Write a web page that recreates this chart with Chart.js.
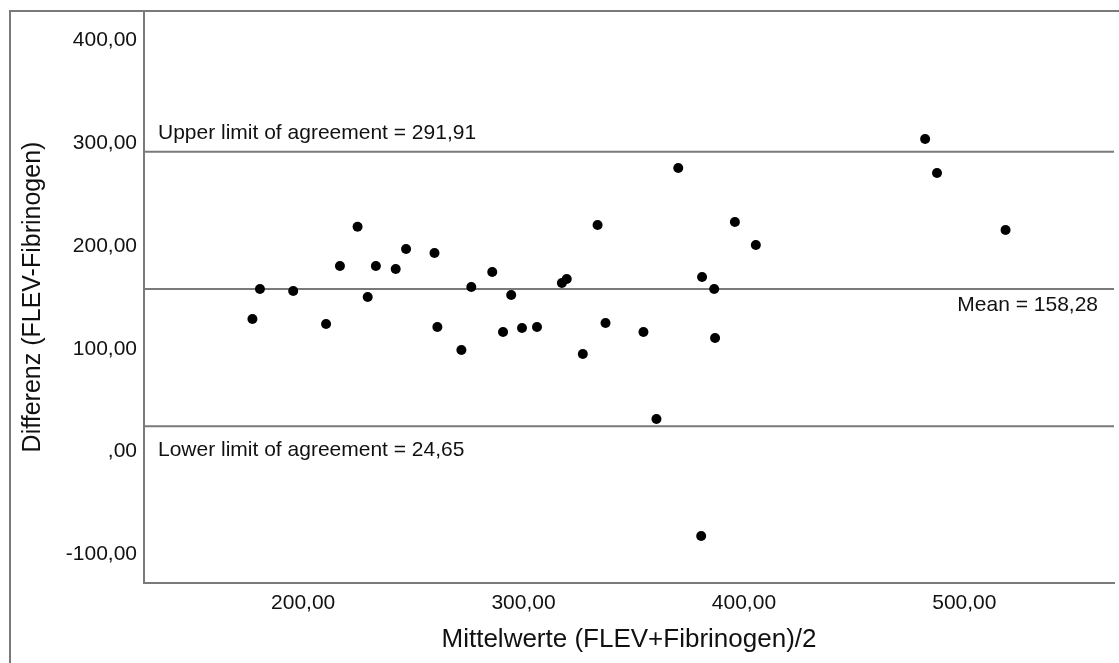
<!DOCTYPE html>
<html lang="de">
<head>
  <meta charset="UTF-8">
  <title>Bland-Altman: FLEV vs. Fibrinogen</title>
  <script src="https://cdn.jsdelivr.net/npm/chart.js"></script>
  <style>
    body {
      margin: 0;
      background-color: #ffffff;
    }

    .chart-box {
      width: 1119px;
      height: 663px;
    }
  </style>
</head>
<body>
  <div class="chart-box">
    <canvas id="baChart" width="1119" height="663"></canvas>
  </div>

  <script>
    // mean of both methods (x) and their difference (y), one entry per sample
    const meanValues = [177.0, 180.4, 195.5, 210.4, 216.7, 224.7, 229.3, 233.0, 242.0, 246.7,
                        259.6, 260.9, 271.8, 276.3, 285.8, 290.7, 294.4, 299.3, 306.1, 317.4,
                        319.6, 326.9, 333.6, 337.2, 354.4, 360.3, 370.2, 381.0, 386.5, 386.9,
                        395.9, 405.4, 380.6, 482.2, 487.6, 518.7];
    const diffValues = [129.0, 158.2, 156.3, 124.2, 180.6, 218.9, 150.4, 180.6, 177.7, 197.2,
                        193.3, 121.2, 98.8, 160.2, 174.8, 116.4, 152.4, 120.3, 121.2, 164.1,
                        167.9, 94.9, 220.5, 125.1, 116.4, 31.6, 276.0, 169.9, 158.2, 110.5,
                        223.4, 201.1, -82.3, 304.3, 271.2, 215.7];

    const meanDiff = 158.28;
    const upperLoA = 291.91;
    const lowerLoA = 24.65;

    const xTicks = [200, 300, 400, 500];
    const yTicks = [-100, 0, 100, 200, 300, 400];
    const xRange = [127.8, 567.9];
    const yRange = [-128, 428.9];

    const axisGrey = '#7a7a7a';
    const textColor = '#111111';

    // SPSS style numbers: 200,00 and ,00 for zero
    function fmt(v) {
      if (v === 0) return ',00';
      return v.toFixed(2).replace('.', ',');
    }

    Chart.defaults.font.family = '"Liberation Sans", Arial, Helvetica, sans-serif';
    Chart.defaults.color = textColor;

    function hLine(value) {
      return {
        type: 'line',
        data: [{ x: xRange[0], y: value }, { x: xRange[1], y: value }],
        borderColor: axisGrey,
        borderWidth: 2,
        pointRadius: 0,
        order: 1
      };
    }

    const labelsPlugin = {
      id: 'baLabels',
      afterDraw(chart) {
        const { ctx, chartArea } = chart;
        const y = chart.scales.y;

        // outer frame (left and top)
        ctx.save();
        ctx.strokeStyle = axisGrey;
        ctx.lineWidth = 2;
        ctx.beginPath();
        ctx.moveTo(10, 663);
        ctx.lineTo(10, chartArea.top);
        ctx.lineTo(1119, chartArea.top);
        ctx.stroke();

        ctx.fillStyle = textColor;
        ctx.font = '21px "Liberation Sans", Arial, sans-serif';
        ctx.textBaseline = 'middle';

        ctx.textAlign = 'left';
        ctx.fillText('Upper limit of agreement = ' + fmt(upperLoA), chartArea.left + 14, y.getPixelForValue(upperLoA) - 19);
        ctx.fillText('Lower limit of agreement = ' + fmt(lowerLoA), chartArea.left + 14, y.getPixelForValue(lowerLoA) + 24);

        ctx.textAlign = 'right';
        ctx.fillText('Mean = ' + fmt(meanDiff), chartArea.right - 16, y.getPixelForValue(meanDiff) + 16);
        ctx.restore();
      }
    };

    const points = meanValues.map((m, i) => ({ x: m, y: diffValues[i] }));

    const chart = new Chart(document.getElementById('baChart'), {
      type: 'scatter',
      data: {
        datasets: [
          {
            data: points,
            backgroundColor: '#000000',
            borderColor: '#000000',
            borderWidth: 0,
            pointRadius: 5,
            order: 0
          },
          hLine(upperLoA),
          hLine(meanDiff),
          hLine(lowerLoA)
        ]
      },
      options: {
        responsive: false,
        animation: false,
        layout: { padding: { top: 11, left: 0, right: 0, bottom: 0 } },
        plugins: {
          legend: { display: false },
          tooltip: { enabled: false }
        },
        scales: {
          x: {
            type: 'linear',
            min: xRange[0],
            max: xRange[1],
            grid: { display: false, drawTicks: false },
            border: { display: true, color: axisGrey, width: 2 },
            afterBuildTicks: (axis) => { axis.ticks = xTicks.map(v => ({ value: v })); },
            afterFit: (s) => { s.height = 80; s.paddingLeft = 0; s.paddingRight = 0; },
            ticks: {
              padding: 8,
              maxRotation: 0,
              font: { size: 21 },
              callback: (v) => fmt(v)
            },
            title: {
              display: true,
              text: 'Mittelwerte (FLEV+Fibrinogen)/2',
              font: { size: 26 },
              padding: { top: 0, bottom: 8 }
            }
          },
          y: {
            type: 'linear',
            min: yRange[0],
            max: yRange[1],
            grid: { display: false, drawTicks: false },
            border: { display: true, color: axisGrey, width: 2 },
            afterBuildTicks: (axis) => { axis.ticks = yTicks.map(v => ({ value: v })); },
            afterFit: (s) => { s.width = 144; s.paddingTop = 0; s.paddingBottom = 0; },
            ticks: {
              padding: 7,
              font: { size: 21 },
              callback: (v) => fmt(v)
            },
            title: {
              display: true,
              text: 'Differenz (FLEV-Fibrinogen)',
              font: { size: 25 },
              padding: { top: 18, bottom: 0 }
            }
          }
        }
      },
      plugins: [labelsPlugin]
    });
  </script>
</body>
</html>
